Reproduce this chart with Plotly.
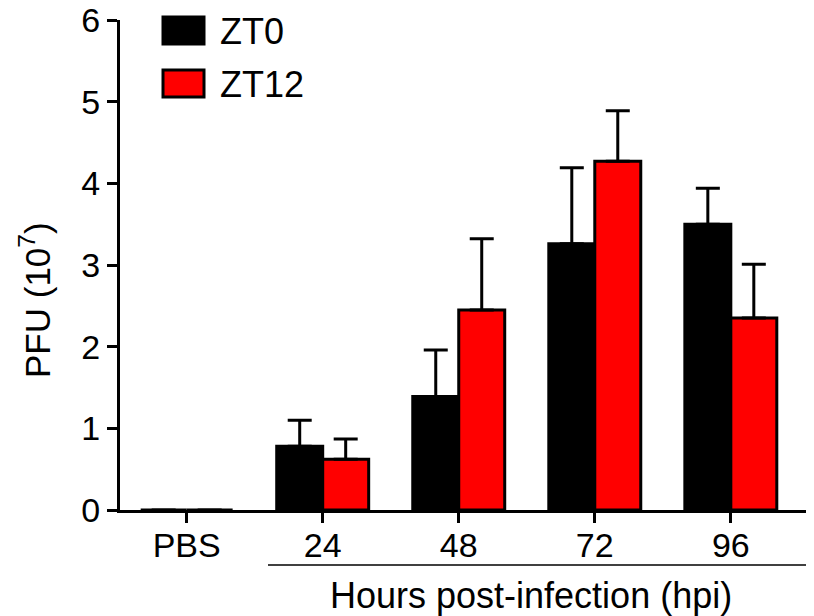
import plotly.graph_objects as go

categories = ["PBS", "24", "48", "72", "96"]
zt0_values = [0, 0.78, 1.39, 3.26, 3.50]
zt0_errors = [0, 0.32, 0.57, 0.93, 0.44]
zt12_values = [0, 0.62, 2.45, 4.27, 2.35]
zt12_errors = [0, 0.25, 0.87, 0.62, 0.66]
y_ticks = [0, 1, 2, 3, 4, 5, 6]
series_names = ["ZT0", "ZT12"]
series_colors = ["#000000", "#ff0000"]

FONT = "Liberation Sans, Arial, sans-serif"

fig = go.Figure()
for name, vals, errs, col in zip(series_names, [zt0_values, zt12_values],
                                 [zt0_errors, zt12_errors], series_colors):
    fig.add_trace(go.Bar(
        x=categories, y=vals, name=name,
        marker=dict(color=col, line=dict(color="black", width=3)),
        error_y=dict(type="data", symmetric=False, array=errs,
                     arrayminus=[0] * len(errs), color="black",
                     thickness=3, width=12),
        showlegend=False,
    ))

# page body has an 8px margin: size the figure so it ends at the window edge
OFF = 8
W, H = 814 - OFF, 616 - OFF
L, R, T, B = 120 - OFF, 7, 20 - OFF, 106
pw, ph = W - L - R, H - T - B

def px_x(p):  # reference window pixel -> paper
    return (p - OFF - L) / pw

def px_y(p):
    return (H - B - (p - OFF)) / ph

shapes = []
annotations = []
# custom legend
for i, (name, col) in enumerate(zip(series_names, series_colors)):
    y0, y1 = 17 + i * 53, 44 + i * 53
    shapes.append(dict(type="rect", xref="paper", yref="paper",
                       x0=px_x(163), x1=px_x(204), y0=px_y(y1), y1=px_y(y0),
                       fillcolor=col, line=dict(color="black", width=3)))
    annotations.append(dict(xref="paper", yref="paper", x=px_x(218), y=px_y((y0 + y1) / 2 + 1),
                            text=name, showarrow=False, xanchor="left", yanchor="middle",
                            font=dict(family=FONT, size=36, color="black")))

# underline for hpi groups
shapes.append(dict(type="line", xref="paper", yref="paper",
                   x0=px_x(268), x1=px_x(809), y0=px_y(565), y1=px_y(565),
                   line=dict(color="black", width=1.5)))
annotations.append(dict(xref="paper", yref="paper", x=px_x(531), y=px_y(595),
                        text="Hours post-infection (hpi)", showarrow=False,
                        xanchor="center", yanchor="middle",
                        font=dict(family=FONT, size=36, color="black")))
annotations.append(dict(xref="paper", yref="paper", x=px_x(35), y=px_y(300),
                        text="PFU (10<sup>7</sup>)", showarrow=False, textangle=-90,
                        xanchor="center", yanchor="middle",
                        font=dict(family=FONT, size=35, color="black")))

fig.update_layout(
    width=W, height=H,
    margin=dict(l=L, r=R, t=T, b=B, autoexpand=False),
    plot_bgcolor="white", paper_bgcolor="white",
    barmode="group", bargap=0.324, bargroupgap=0,
    shapes=shapes, annotations=annotations,
    font=dict(family=FONT, size=34, color="black"),
    xaxis=dict(type="category", range=[-0.49, 4.56], showline=True, linewidth=3,
               linecolor="black", ticks="outside", ticklen=10, tickwidth=3,
               tickcolor="black", showgrid=False, zeroline=False, automargin=False,
               ticklabelstandoff=-7,
               tickfont=dict(family=FONT, size=34, color="black")),
    yaxis=dict(range=[0, 6], tickvals=y_ticks, showline=True, linewidth=3,
               linecolor="black", ticks="outside", ticklen=10, tickwidth=3,
               tickcolor="black", showgrid=False, zeroline=False, automargin=False,
               ticklabeloverflow="allow",
               tickfont=dict(family=FONT, size=34, color="black")),
)

fig.write_html("out.html")
